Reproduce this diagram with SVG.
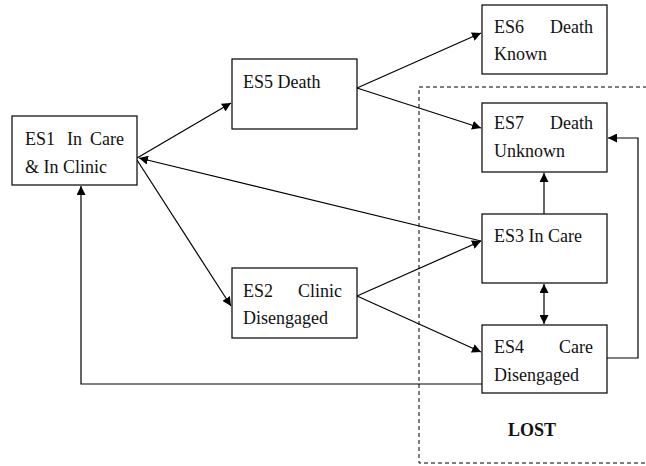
<svg xmlns="http://www.w3.org/2000/svg" width="646" height="466" viewBox="0 0 646 466">
<style>
.box{fill:#fff;stroke:#000;stroke-width:1.2}
.t{font-family:"Liberation Serif","Times New Roman",serif;font-size:18px;fill:#111}
.e{text-anchor:end}
.c line,.c polyline{stroke:#000;stroke-width:1.2;fill:none}
.a{marker-end:url(#ah)}
</style>
<defs>
<marker id="ah" viewBox="0 0 10 10" refX="10" refY="5" markerWidth="9" markerHeight="9" markerUnits="userSpaceOnUse" orient="auto-start-reverse">
<path d="M0,0 L10,5 L0,10 z" fill="#000"/>
</marker>
</defs>
<rect x="419" y="87" width="240" height="376" fill="none" stroke="#000" stroke-width="1" stroke-dasharray="4 3"/>
<g class="c">
<line class="a" x1="137" y1="158" x2="231" y2="103"/>
<line class="a" x1="137" y1="160" x2="231" y2="306"/>
<line class="a" x1="481" y1="241" x2="139" y2="158"/>
<line class="a" x1="357" y1="88" x2="481" y2="33"/>
<line class="a" x1="357" y1="88" x2="481" y2="128"/>
<line class="a" x1="357" y1="296" x2="481" y2="241"/>
<line class="a" x1="357" y1="296" x2="481" y2="352"/>
<line class="a" x1="544" y1="214" x2="544" y2="173"/>
<line class="a" marker-start="url(#ah)" x1="544" y1="284" x2="544" y2="324"/>
<polyline class="a" points="607,358 638,358 638,138 608,138"/>
<polyline class="a" points="482,384 81,384 81,186"/>
</g>
<g id="es1"><rect class="box" x="12" y="116" width="125" height="69"/>
<text class="t" y="145"><tspan x="25">ES1</tspan><tspan x="67">In</tspan><tspan x="124" class="e">Care</tspan></text>
<text class="t" x="25" y="173">&amp; In Clinic</text></g>
<g id="es5"><rect class="box" x="232" y="59" width="125" height="70"/>
<text class="t" x="243" y="88">ES5 Death</text></g>
<g id="es6"><rect class="box" x="482" y="5" width="125" height="69"/>
<text class="t" y="33"><tspan x="494">ES6</tspan><tspan x="593" class="e">Death</tspan></text>
<text class="t" x="494" y="60">Known</text></g>
<g id="es7"><rect class="box" x="482" y="103" width="125" height="69"/>
<text class="t" y="129"><tspan x="494">ES7</tspan><tspan x="593" class="e">Death</tspan></text>
<text class="t" x="494" y="157">Unknown</text></g>
<g id="es2"><rect class="box" x="232" y="268" width="125" height="70"/>
<text class="t" y="297"><tspan x="243">ES2</tspan><tspan x="342" class="e">Clinic</tspan></text>
<text class="t" x="243" y="324">Disengaged</text></g>
<g id="es3"><rect class="box" x="482" y="214" width="125" height="69"/>
<text class="t" x="494" y="242">ES3 In Care</text></g>
<g id="es4"><rect class="box" x="482" y="325" width="125" height="68"/>
<text class="t" y="353"><tspan x="494">ES4</tspan><tspan x="593" class="e">Care</tspan></text>
<text class="t" x="494" y="381">Disengaged</text></g>
<text class="t" x="532" y="436" text-anchor="middle" font-weight="bold">LOST</text>
</svg>
